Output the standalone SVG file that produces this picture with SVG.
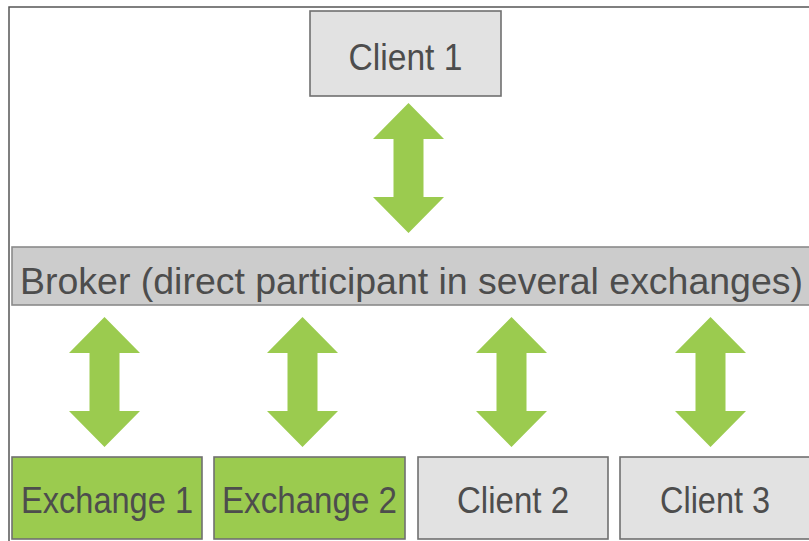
<svg xmlns="http://www.w3.org/2000/svg" xmlns:xlink="http://www.w3.org/1999/xlink" width="809" height="541" viewBox="0 0 809 541">
  <style>
    .box { stroke: #707070; stroke-width: 1.6; }
    .client { fill: #e2e2e2; }
    .exch { fill: #9bcb4f; }
    .broker { fill: #cccccc; stroke: #8a8a8a; stroke-width: 1.6; }
    .lbl { font-family: "Liberation Sans", Arial, sans-serif; font-size: 36px; fill: #4d4d4d; }
    .arrow { fill: #9bcb4f; }
  </style>
  <defs>
    <path id="dblarrow" d="M0,0 L35.5,36 L15,36 L15,94 L35.5,94 L0,130 L-35.5,94 L-15,94 L-15,36 L-35.5,36 Z"/>
  </defs>
  <rect x="0" y="0" width="809" height="541" fill="#ffffff"/>
  <path d="M9,541 L9,7 L809,7" fill="none" stroke="#555555" stroke-width="1.5"/>

  <g id="connectors" class="arrow">
    <use xlink:href="#dblarrow" transform="translate(408.5,103)"/>
    <use xlink:href="#dblarrow" transform="translate(104.5,317)"/>
    <use xlink:href="#dblarrow" transform="translate(302.5,317)"/>
    <use xlink:href="#dblarrow" transform="translate(511.5,317)"/>
    <use xlink:href="#dblarrow" transform="translate(710.5,317)"/>
  </g>

  <g id="client1">
    <rect class="box client" x="310" y="11" width="191" height="85"/>
    <text class="lbl" x="405.5" y="70" text-anchor="middle" textLength="114" lengthAdjust="spacingAndGlyphs">Client 1</text>
  </g>

  <g id="broker">
    <rect class="broker" x="12" y="247" width="802" height="58"/>
    <text class="lbl" x="20" y="294" textLength="783" lengthAdjust="spacingAndGlyphs" font-size="38">Broker (direct participant in several exchanges)</text>
  </g>

  <g id="exchange1">
    <rect class="box exch" x="12" y="457" width="190" height="82"/>
    <text class="lbl" x="107" y="513" text-anchor="middle" textLength="172" lengthAdjust="spacingAndGlyphs">Exchange 1</text>
  </g>

  <g id="exchange2">
    <rect class="box exch" x="214" y="457" width="191" height="82"/>
    <text class="lbl" x="309.5" y="513" text-anchor="middle" textLength="175" lengthAdjust="spacingAndGlyphs">Exchange 2</text>
  </g>

  <g id="client2">
    <rect class="box client" x="418" y="457" width="190" height="82"/>
    <text class="lbl" x="513" y="513" text-anchor="middle" textLength="112" lengthAdjust="spacingAndGlyphs">Client 2</text>
  </g>

  <g id="client3">
    <rect class="box client" x="620" y="457" width="192" height="82"/>
    <text class="lbl" x="715" y="513" text-anchor="middle" textLength="110" lengthAdjust="spacingAndGlyphs">Client 3</text>
  </g>
</svg>
